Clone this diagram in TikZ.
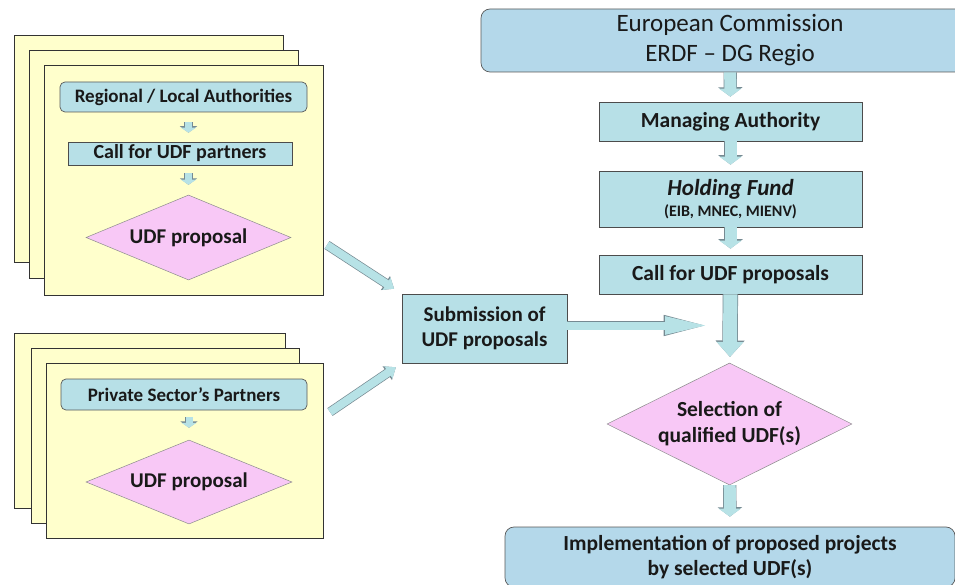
\documentclass[tikz,border=0pt]{standalone}
\usepackage{fontspec}
\setmainfont{Carlito}
\usetikzlibrary{shapes.geometric,arrows.meta}

\definecolor{pageyellow}{RGB}{255,255,204}
\definecolor{boxblue}{RGB}{183,224,231}
\definecolor{headblue}{RGB}{180,216,234}
\definecolor{udfpink}{RGB}{248,200,246}
\definecolor{arrowfill}{RGB}{183,226,230}
\definecolor{arrowedge}{RGB}{118,138,146}

\tikzset{
	page/.style={draw=black!80, line width=0.8pt, fill=pageyellow, inner sep=0pt},
	party/.style={draw=black!65, line width=0.7pt, fill=boxblue, rounded corners=5pt, inner sep=0pt, font=\fontsize{19}{22}\selectfont\bfseries},
	stage/.style={draw=black!70, line width=0.7pt, fill=boxblue, inner sep=0pt, align=center, font=\fontsize{21.5}{25}\selectfont\bfseries},
	level/.style={draw=black!65, line width=0.7pt, fill=headblue, rounded corners=9pt, inner sep=0pt, align=center},
	choice/.style={diamond, draw=black!45, line width=0.5pt, fill=udfpink, inner sep=0pt, align=center, font=\fontsize{21}{26}\selectfont\bfseries},
	fat/.style n args={3}{line width=#1, draw=arrowfill,
		-{Triangle[length=#3, width=#2, color=arrowfill]},
		preaction={draw=arrowedge, line width=#1+1.4pt, -{Triangle[length=#3+1.4pt, width=#2+2pt, color=arrowedge]}}},
}

\begin{document}
\begin{tikzpicture}[x=1pt, y=-1pt, color=black!90]

	\useasboundingbox (0,0) rectangle (955,585);

	\node[page, minimum width=269, minimum height=227] (ra3) at (148.5,148.5) {};
	\node[page, minimum width=269, minimum height=228] (ra2) at (163.5,164) {};
	\node[page, minimum width=279, minimum height=230] (ra1) at (183.5,180) {};

	\node[party, minimum width=247, minimum height=30] (ra) at (183.5,97) {Regional / Local Authorities};

	\node[stage, minimum width=224, minimum height=23, font=\fontsize{20}{22}\selectfont\bfseries] (cp) at (180,153.5) {Call for UDF partners};

	\node[choice, aspect=2.4, minimum width=205, minimum height=85] (dp1) at (188.5,237.5) {UDF proposal};

	\node[page, minimum width=271, minimum height=175] (ps3) at (149.5,420.5) {};
	\node[page, minimum width=268, minimum height=175] (ps2) at (165,435.5) {};
	\node[page, minimum width=277, minimum height=175] (ps1) at (184.5,450.5) {};

	\node[party, minimum width=246, minimum height=31] (ps) at (184,394.5) {Private Sector's Partners};

	\node[choice, aspect=2.4, minimum width=206, minimum height=84] (dp2) at (189,482) {UDF proposal};

	\node[level, minimum width=498, minimum height=63, font=\fontsize{25}{30}\selectfont] (ec) at (730,40.5) {European Commission\\ERDF -- DG Regio};

	\node[stage, minimum width=263, minimum height=39] (ma) at (730.5,121.5) {Managing Authority};

	\node[stage, minimum width=263, minimum height=56] (hf) at (730.5,199) {{\fontsize{23}{25}\selectfont\textit{Holding Fund}}\\[-4pt]{\fontsize{16}{18}\selectfont (EIB, MNEC, MIENV)}};

	\node[stage, minimum width=263, minimum height=39] (cu) at (730.5,274.5) {Call for UDF proposals};

	\node[stage, minimum width=165, minimum height=69, font=\fontsize{21}{25}\selectfont\bfseries] (sb) at (484.5,328.5) {Submission of\\UDF proposals};

	\node[choice, aspect=2, minimum width=245, minimum height=122, font=\fontsize{21.5}{26}\selectfont\bfseries] (sel) at (729.5,424) {Selection of\\qualified UDF(s)};

	\node[level, minimum width=450, minimum height=60, font=\fontsize{21.5}{25}\selectfont\bfseries] (im) at (730,557) {Implementation of proposed projects\\by selected UDF(s)};

	\coordinate (ta) at (327,245);
	\coordinate (tb) at (330,412);
	\coordinate (mj) at (711,325.5);

	\draw[fat={7pt}{15pt}{5pt}, shorten <=10pt, shorten >=9pt] (ra.south -| dp1) -- (cp.north -| dp1);
	\draw[fat={7pt}{15pt}{5pt}, shorten <=8pt, shorten >=10pt] (cp.south -| dp1) -- (dp1.north);
	\draw[fat={7pt}{15pt}{5pt}, shorten <=7pt, shorten >=12pt] (ps.south -| dp2) -- (dp2.north);

	\draw[fat={8pt}{14pt}{9pt}, shorten >=9pt] (ta) -- (sb.north west);
	\draw[fat={8pt}{14pt}{9pt}, shorten >=7pt] (tb) -- (sb.south west);
	\draw[fat={8pt}{16pt}{46pt}] (sb.east |- mj) -- (mj);

	\draw[fat={12pt}{22pt}{8pt}, shorten >=5pt] (ec) -- (ma);
	\draw[fat={12pt}{22pt}{8pt}, shorten >=6pt] (ma) -- (hf);
	\draw[fat={12pt}{22pt}{8pt}, shorten >=6pt] (hf) -- (cu);
	\draw[fat={14pt}{26pt}{15pt}, shorten >=6pt] (cu) -- (sel);
	\draw[fat={12pt}{22pt}{8pt}, shorten >=10pt] (sel) -- (im);
\end{tikzpicture}
\end{document}
